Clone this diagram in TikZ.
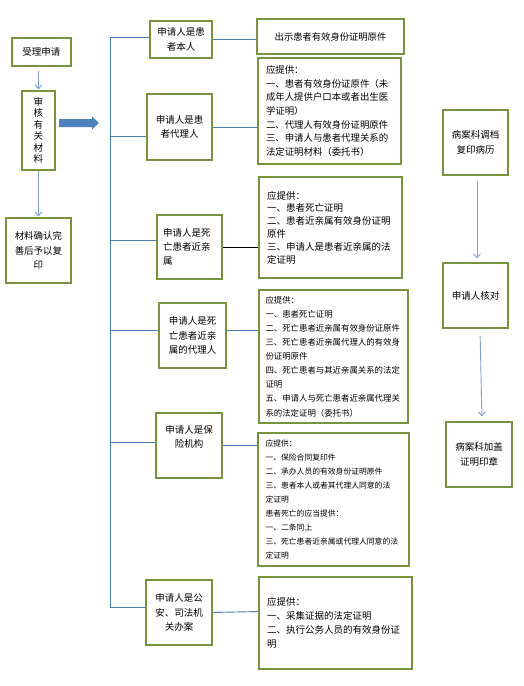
\documentclass[tikz,border=0pt]{standalone}
\usepackage{fontspec}
\newfontfamily\cjk{Noto Sans CJK SC}
\usetikzlibrary{arrows.meta}
\definecolor{boxgreen}{RGB}{119,147,60}
\definecolor{lineblue}{RGB}{74,126,187}
\definecolor{arrblue}{RGB}{125,160,208}
\definecolor{blockblue}{RGB}{79,129,189}
\tikzset{
  gbox/.style={draw=boxgreen, line width=1.1pt, inner sep=2pt, align=center,
    font=\cjk\fontsize{9.5}{14.3}\selectfont},
  detail/.style={gbox, align=left},
  conn/.style={draw=lineblue, line width=0.9pt},
  arr/.style={draw=arrblue, line width=0.9pt, -{Straight Barb[length=4pt,width=7pt]}},
}
\begin{document}
\begin{tikzpicture}[x=1pt,y=-1pt]
\useasboundingbox[fill=white] (0,0) rectangle (523,686);
% left column
\node[gbox, minimum width=59, minimum height=28] (L1) at (41.5,52) {受理申请};
\node[gbox, minimum width=33, minimum height=79, font=\cjk\fontsize{9.5}{11.5}\selectfont] (L2) at (38.5,130.5) {审\\核\\有\\关\\材\\料};
\node[gbox, minimum width=65, minimum height=65] (L3) at (38.5,250.5) {材料确认完\\善后予以复\\印};
\draw[arr, shorten <=4pt, shorten >=1pt] (L1.south -| L2.north) -- (L2.north);
\draw[arr, shorten >=1pt] (L2.south) -- (L3.north);
\fill[blockblue] (59,119) -- (92,119) -- (92,116.5) -- (99,123) -- (92,129.5) -- (92,127) -- (59,127) -- cycle;
% bus
\coordinate (b1) at (110,37);
\coordinate (b2) at (110,136);
\coordinate (b3) at (110,240);
\coordinate (b4) at (110,330);
\coordinate (b5) at (110,442);
\coordinate (b6) at (110,607);
\draw[conn] (b1) -- (b6);
% middle column
\node[gbox, minimum width=62, minimum height=37] (M1) at (181,39.5) {申请人是患\\者本人};
\node[gbox, minimum width=65, minimum height=66] (M2) at (179.5,127) {申请人是患\\者代理人};
\node[gbox, minimum width=65, minimum height=64, text width=53, align=left] (M3) at (189.5,247) {申请人是死\\亡患者近亲\\属};
\node[gbox, minimum width=67, minimum height=65] (M4) at (192.5,335.5) {申请人是死\\亡患者近亲\\属的代理人};
\node[gbox, minimum width=66, minimum height=65] (M5) at (189,445.5) {申请人是保\\险机构\\[4pt]\mbox{}};
\node[gbox, minimum width=66, minimum height=65] (M6) at (179,612.5) {申请人是公\\安、司法机\\关办案};
\foreach \i in {1,...,6} {\draw[conn] (b\i) -- (b\i -| M\i.west);}
% detail column
\node[gbox, minimum width=147, minimum height=35, font=\cjk\fontsize{9.3}{14}\selectfont] (R1) at (330.5,36.5) {出示患者有效身份证明原件};
\node[detail, minimum width=143, minimum height=106, text width=127, font=\cjk\fontsize{9.4}{13.7}\selectfont] (R2) at (329.5,111) {应提供：\\一、患者有效身份证原件（未\\成年人提供户口本或者出生医\\学证明）\\二、代理人有效身份证明原件\\三、申请人与患者代理关系的\\法定证明材料（委托书）};
\node[detail, minimum width=143, minimum height=101, text width=127, font=\cjk\fontsize{9.5}{12.8}\selectfont] (R3) at (330.5,227.5) {应提供：\\一、患者死亡证明\\二、患者近亲属有效身份证明\\原件\\三、申请人是患者近亲属的法\\定证明};
\node[detail, minimum width=149, minimum height=133, text width=136, font=\cjk\fontsize{8.4}{14.1}\selectfont] (R4) at (333.5,356.5) {应提供：\\一、患者死亡证明\\二、死亡患者近亲属有效身份证原件\\三、死亡患者近亲属代理人的有效身\\份证明原件\\四、死亡患者与其近亲属关系的法定\\证明\\五、申请人与死亡患者近亲属代理关\\系的法定证明（委托书）};
\node[detail, minimum width=151, minimum height=133, text width=136, font=\cjk\fontsize{7.8}{14}\selectfont] (R5) at (333.5,499.5) {应提供：\\一、保险合同复印件\\二、承办人员的有效身份证明原件\\三、患者本人或者其代理人同意的法\\定证明\\患者死亡的应当提供：\\一、二条同上\\三、死亡患者近亲属或代理人同意的法\\定证明};
\node[detail, minimum width=153, minimum height=92, text width=137, font=\cjk\fontsize{9.5}{13.9}\selectfont] (R6) at (335.5,623) {应提供：\\一、采集证据的法定证明\\二、执行公务人员的有效身份证\\明};
\draw[conn] (M1.east) -- (M1.east -| R1.west);
\draw[conn] (M2.east) -- (M2.east -| R2.west);
\draw[black, line width=0.9pt] (M3.east) -- (M3.east -| R3.west);
\draw[conn] ([yshift=5pt]M4.east) -- ([yshift=5pt]M4.east -| R4.west);
\draw[conn] (M5.east) -- (M5.east -| R5.west);
\draw[conn] (M6.east) -- ([yshift=1pt]M6.east -| R6.west);
% far right column
\node[gbox, minimum width=65, minimum height=65] (F1) at (475.5,142.5) {病案科调档\\复印病历};
\node[gbox, minimum width=65, minimum height=65] (F2) at (475.5,295.5) {申请人核对};
\node[gbox, minimum width=66, minimum height=65] (F3) at (479,454.5) {病案科加盖\\证明印章};
\draw[arr, shorten <=5pt, shorten >=4pt] ([xshift=1.5pt]F1.south) -- ([xshift=1.5pt]F2.north);
\draw[arr, shorten <=7pt, shorten >=5pt] ([xshift=4.5pt]F2.south) -- ([xshift=3pt]F3.north);
\end{tikzpicture}
\end{document}
